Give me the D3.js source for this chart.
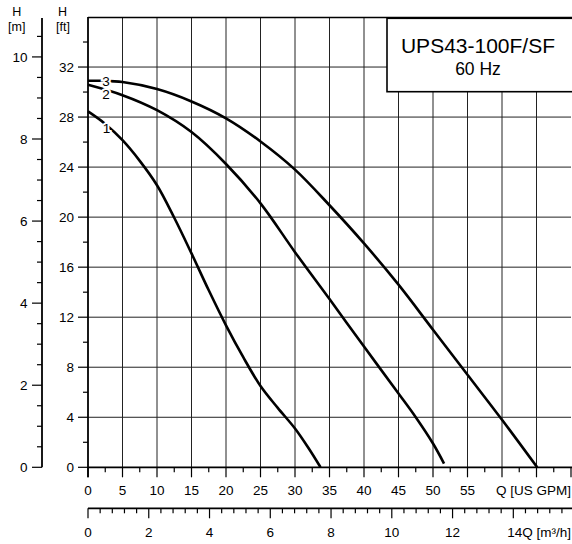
<!DOCTYPE html>
<html><head><meta charset="utf-8">
<script src="https://cdn.jsdelivr.net/npm/d3@7"></script>
<style>
html,body{margin:0;padding:0;background:#fff;}
text{font-family:"Liberation Sans",Arial,sans-serif;fill:#000;}
</style></head>
<body><svg id="c" width="572" height="544"></svg>
<script>
// ---- data ----
const curve1Q = [0, 2.5, 5, 7.5, 10, 12.5, 15, 17.5, 20, 22.5, 25, 27.5, 30, 32, 33.7];
const curve1H = [28.45, 27.45, 26.15, 24.5, 22.55, 19.95, 17.1, 14.15, 11.35, 8.8, 6.5, 4.75, 3.1, 1.5, 0];
const curve2Q = [0, 5, 10, 15, 20, 25, 30, 35, 40, 45, 47.5, 50, 51.6];
const curve2H = [30.58, 29.75, 28.55, 26.8, 24.25, 21.1, 17.2, 13.45, 9.65, 5.9, 4.0, 1.9, 0.3];
const curve3Q = [0, 2, 5, 10, 15, 20, 25, 30, 35, 40, 45, 50, 55, 60, 65.1];
const curve3H = [30.9, 30.9, 30.8, 30.24, 29.25, 27.9, 26.05, 23.8, 20.95, 17.9, 14.6, 11.0, 7.4, 3.8, 0];
const curveNames = ["1", "2", "3"];
const curveLabelQ = [2.7, 2.6, 2.6];
const curveLabelH = [27.1, 29.8, 30.9];
const gpmTickLabels = [0, 5, 10, 15, 20, 25, 30, 35, 40, 45, 50, 55];
const m3hTickLabels = [0, 2, 4, 6, 8, 10, 12];
const ftTickLabels = [0, 4, 8, 12, 16, 20, 24, 28, 32];
const mTickLabels = [0, 2, 4, 6, 8, 10];
const titleLines = ["UPS43-100F/SF", "60 Hz"];

// ---- layout ----
const svg = d3.select("#c");
const L = 88, R = 571, T = 17, B = 467.3;
const FT_PER_M = 1 / 0.3048, GPM_PER_M3H = 4.40287;
const x = d3.scaleLinear().domain([0, 70]).range([L, R]);
const y = d3.scaleLinear().domain([0, 36]).range([B, T]);
const yM = d3.scaleLinear().domain([0, 36 / FT_PER_M]).range([B, T]);
const xM = d3.scaleLinear().domain([0, 70 / GPM_PER_M3H]).range([L, R]);
const fs = 13.5;

// grid
const g = svg.append("g");
g.selectAll(".vg").data(d3.range(5, 70, 5)).join("line")
  .attr("x1", d => x(d)).attr("x2", d => x(d)).attr("y1", T).attr("y2", B)
  .attr("stroke", "#222").attr("stroke-width", 1);
g.selectAll(".hg").data(d3.range(4, 36, 4)).join("line")
  .attr("x1", L).attr("x2", R).attr("y1", d => y(d)).attr("y2", d => y(d))
  .attr("stroke", "#222").attr("stroke-width", 1);
g.append("line").attr("x1", L).attr("x2", 572).attr("y1", T + 0.5).attr("y2", T + 0.5)
  .attr("stroke", "#000").attr("stroke-width", 1.6);

// ft axis
const ftAxis = svg.append("g");
ftAxis.append("line").attr("x1", L).attr("x2", L).attr("y1", T).attr("y2", B + 10)
  .attr("stroke", "#000").attr("stroke-width", 1.8);
ftAxis.selectAll(".t").data(d3.range(0, 36, 2)).join("line")
  .attr("x1", d => d % 4 === 0 ? L - 10 : L - 5).attr("x2", L)
  .attr("y1", d => y(d)).attr("y2", d => y(d)).attr("stroke", "#000").attr("stroke-width", 1.2);
ftAxis.selectAll("text").data(ftTickLabels).join("text")
  .attr("x", 74).attr("y", d => y(d)).attr("dy", "0.35em")
  .attr("text-anchor", "end").attr("font-size", fs).text(d => d);

// m axis
const mx = 42;
const mAxis = svg.append("g");
mAxis.append("line").attr("x1", mx).attr("x2", mx).attr("y1", T + 1).attr("y2", B)
  .attr("stroke", "#000").attr("stroke-width", 1.8);
mAxis.selectAll(".t").data(d3.range(0, 10.75, 0.5)).join("line")
  .attr("x1", d => d % 2 === 0 ? mx - 10 : mx - 5).attr("x2", mx)
  .attr("y1", d => yM(d)).attr("y2", d => yM(d)).attr("stroke", "#000").attr("stroke-width", 1.2);
mAxis.selectAll("text").data(mTickLabels).join("text")
  .attr("x", 27.5).attr("y", d => yM(d)).attr("dy", "0.35em")
  .attr("text-anchor", "end").attr("font-size", fs).text(d => d);

// axis headers
[["H", 16.7, 12], ["[m]", 16.7, 27], ["H", 62.5, 12], ["[ft]", 63, 27]].forEach(([t, xx, yy]) => {
  svg.append("text").attr("x", xx).attr("y", yy).attr("dy", "0.35em")
    .attr("text-anchor", "middle").attr("font-size", 12.5).text(t);
});

// GPM axis
const gx = svg.append("g");
gx.append("line").attr("x1", L).attr("x2", 572).attr("y1", B).attr("y2", B)
  .attr("stroke", "#000").attr("stroke-width", 1.8);
gx.selectAll(".t").data(d3.range(0, 70.01, 2.5)).join("line")
  .attr("x1", d => x(d)).attr("x2", d => x(d)).attr("y1", B)
  .attr("y2", d => d % 5 === 0 ? B + 10 : B + 5).attr("stroke", "#000").attr("stroke-width", 1.2);
gx.selectAll("text").data(gpmTickLabels).join("text")
  .attr("x", d => x(d)).attr("y", 490).attr("dy", "0.35em")
  .attr("text-anchor", "middle").attr("font-size", fs).text(d => d);
gx.append("text").attr("x", 571).attr("y", 490).attr("dy", "0.35em")
  .attr("text-anchor", "end").attr("font-size", fs).text("Q [US GPM]");

// m3/h axis
const ay = 508.3;
const mxg = svg.append("g");
mxg.append("line").attr("x1", L).attr("x2", 572).attr("y1", ay).attr("y2", ay)
  .attr("stroke", "#000").attr("stroke-width", 1.8);
mxg.selectAll(".t").data(d3.range(0, 15.7, 0.4)).join("line")
  .attr("x1", d => xM(d)).attr("x2", d => xM(d)).attr("y1", ay)
  .attr("y2", d => Math.abs(d / 2 - Math.round(d / 2)) < 1e-6 ? ay + 10 : ay + 5)
  .attr("stroke", "#000").attr("stroke-width", 1.2);
mxg.selectAll("text").data(m3hTickLabels).join("text")
  .attr("x", d => xM(d)).attr("y", 532).attr("dy", "0.35em")
  .attr("text-anchor", "middle").attr("font-size", fs).text(d => d);
mxg.append("text").attr("x", 571).attr("y", 532).attr("dy", "0.35em")
  .attr("text-anchor", "end").attr("font-size", fs).text("14Q [m³/h]");

// curves
const line = d3.line().x(d => x(d[0])).y(d => y(d[1])).curve(d3.curveCatmullRom.alpha(0.5));
const curves = [
  d3.zip(curve1Q, curve1H),
  d3.zip(curve2Q, curve2H),
  d3.zip(curve3Q, curve3H)
];
svg.append("g").selectAll("path").data(curves).join("path")
  .attr("d", line).attr("fill", "none").attr("stroke", "#000").attr("stroke-width", 2.6);

svg.append("g").selectAll("text").data(curveNames).join("text")
  .attr("x", (d, i) => x(curveLabelQ[i])).attr("y", (d, i) => y(curveLabelH[i])).attr("dy", "0.35em")
  .attr("text-anchor", "middle").attr("font-size", fs)
  .attr("stroke", "#fff").attr("stroke-width", 4).attr("paint-order", "stroke")
  .text(d => d);

// title box
const box = svg.append("g");
box.append("rect").attr("x", 387).attr("y", 18.3).attr("width", 190).attr("height", 73.4)
  .attr("fill", "#fff").attr("stroke", "#000").attr("stroke-width", 1.6);
box.append("text").attr("x", 478).attr("y", 53).attr("text-anchor", "middle")
  .attr("font-size", 21).text(titleLines[0]);
box.append("text").attr("x", 478).attr("y", 75).attr("text-anchor", "middle")
  .attr("font-size", 17.5).text(titleLines[1]);
</script>
</body></html>
